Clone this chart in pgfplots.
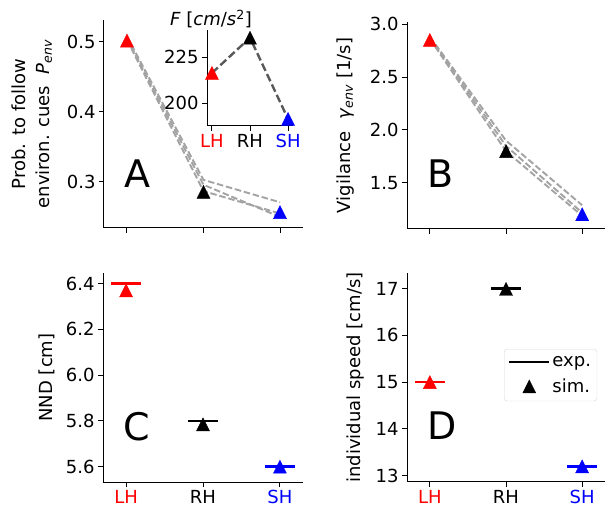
\documentclass[border=0pt]{standalone}
\usepackage{pgfplots}
\pgfplotsset{compat=1.18}
\usepackage{fontspec}
\setmainfont{DejaVu Sans}
\newcommand{\fs}{\fontsize{18}{24}\selectfont}
\newcommand{\panelfont}{\fontsize{38}{40}\selectfont}
% matplotlib-like "^" marker: point in the middle of the box
\pgfdeclareplotmark{mtri}{%
  \pgfpathmoveto{\pgfqpoint{0pt}{\pgfplotmarksize}}%
  \pgfpathlineto{\pgfqpoint{-\pgfplotmarksize}{-\pgfplotmarksize}}%
  \pgfpathlineto{\pgfqpoint{\pgfplotmarksize}{-\pgfplotmarksize}}%
  \pgfpathclose
  \pgfusepathqfillstroke}
\pgfplotsset{
  panel/.style={scale only axis, anchor=south west, axis lines=left,
    axis line style={-, line width=1pt, black},
    tick align=outside, major tick length=5pt, tick style={black, line width=1pt},
    xmin=-0.3, xmax=2.3, xtick={0,1,2},
    tick label style={font=\fs}, label style={font=\fs},
    /pgf/number format/assume math mode=true, clip=false},
  sim/.style={only marks, mark=mtri, mark size=6.5pt, color=#1,
    mark options={fill=#1, draw=#1, line width=0.4pt}},
  run/.style={black!36, line width=1.9pt, dash pattern=on 6.5pt off 2.8pt},
  expline/.style={color=#1, line width=2.4pt},
}
\begin{document}
\begin{tikzpicture}
\useasboundingbox (0pt,0pt) rectangle (605pt,514pt);

% A
\begin{axis}[panel, at={(104pt,286pt)}, width=199pt, height=208pt,
  ymin=0.2343, ymax=0.5314, ytick={0.3,0.4,0.5}, yticklabels={0.3,0.4,0.5},
  xticklabels={},
  ylabel={Prob. to follow\\environ. cues\ \ \textit{P}\textsubscript{\textit{env}}},
  ylabel style={align=center}, ylabel shift=8pt]
\addplot[run] coordinates {(0,0.508) (1,0.303) (2,0.271)};
\addplot[run] coordinates {(0,0.505) (1,0.296) (2,0.250)};
\addplot[run] coordinates {(0,0.503) (1,0.287) (2,0.255)};
\addplot[sim=red] coordinates {(0,0.502)};
\addplot[sim=black] coordinates {(1,0.286)};
\addplot[sim=blue] coordinates {(2,0.257)};
\node[font=\panelfont] at (rel axis cs:0.17,0.26) {A};
\end{axis}

% inset of A
\begin{axis}[panel, at={(207pt,388pt)}, width=86pt, height=96pt,
  xmin=-0.13, xmax=2.13, ymin=187.5, ymax=239.7,
  ytick={200,225}, yticklabels={200,225},
  xticklabels={\textcolor{red}{LH},RH,\textcolor{blue}{SH}},
  axis background/.style={fill=white}]
\addplot[black!65, line width=2.4pt, dash pattern=on 8pt off 3.5pt] coordinates {(0,216.3) (1,235.5) (2,191.3)};
\addplot[sim=red] coordinates {(0,216.3)};
\addplot[sim=black] coordinates {(1,235.5)};
\addplot[sim=blue] coordinates {(2,191.3)};
\node[font=\fs, anchor=south, inner sep=0pt, xshift=4pt, yshift=2pt] at (rel axis cs:0,1)
  {\textit{F} [\textit{cm}/\textit{s}\textsuperscript{2}]};
\end{axis}

% B
\begin{axis}[panel, at={(407pt,285pt)}, width=198pt, height=207pt,
  ymin=1.066, ymax=3.019, ytick={1.5,2.0,2.5,3.0}, yticklabels={1.5,2.0,2.5,3.0},
  xticklabels={},
  ylabel={Vigilance\ \ \textit{γ}\textsubscript{\textit{env}} [1/s]}, ylabel shift=9pt]
\addplot[run] coordinates {(0,2.88) (1,1.90) (2,1.29)};
\addplot[run] coordinates {(0,2.87) (1,1.85) (2,1.22)};
\addplot[run] coordinates {(0,2.86) (1,1.80) (2,1.19)};
\addplot[sim=red] coordinates {(0,2.85)};
\addplot[sim=black] coordinates {(1,1.80)};
\addplot[sim=blue] coordinates {(2,1.205)};
\node[font=\panelfont] at (rel axis cs:0.167,0.266) {B};
\end{axis}

% C
\begin{axis}[panel, at={(103pt,32pt)}, width=200pt, height=209pt,
  ymin=5.533, ymax=6.446, ytick={5.6,5.8,6.0,6.2,6.4}, yticklabels={5.6,5.8,6.0,6.2,6.4},
  xticklabels={\textcolor{red}{LH},RH,\textcolor{blue}{SH}},
  ylabel={NND [cm]}, ylabel shift=4pt]
\addplot[expline=red] coordinates {(-0.2,6.4) (0.2,6.4)};
\addplot[expline=black] coordinates {(0.8,5.8) (1.2,5.8)};
\addplot[expline=blue] coordinates {(1.8,5.6) (2.2,5.6)};
\addplot[sim=red] coordinates {(0,6.37)};
\addplot[sim=black] coordinates {(1,5.785)};
\addplot[sim=blue] coordinates {(2,5.60)};
\node[font=\panelfont] at (rel axis cs:0.17,0.263) {C};
\end{axis}

% D
\begin{axis}[panel, at={(407pt,32pt)}, width=198pt, height=209pt,
  ymin=12.865, ymax=17.331, ytick={13,14,15,16,17}, yticklabels={13,14,15,16,17},
  xticklabels={\textcolor{red}{LH},RH,\textcolor{blue}{SH}},
  ylabel={individual speed [cm/s]}, ylabel shift=4pt,
  legend style={at={(0.49,0.636)}, anchor=north west, draw=black!15, rounded corners=3pt,
    font=\fs, inner xsep=4pt, inner ysep=5pt, row sep=7pt, cells={anchor=west}},
  legend image code/.code={\draw[mark repeat=2,mark phase=2,#1] plot coordinates {(0pt,0pt) (20pt,0pt) (40pt,0pt)};}]
\addlegendimage{black, line width=2.2pt}
\addlegendentry{exp.}
\addlegendimage{sim=black}
\addlegendentry{sim.}
\addplot[expline=red] coordinates {(-0.2,15.0) (0.2,15.0)};
\addplot[expline=black] coordinates {(0.8,17.0) (1.2,17.0)};
\addplot[expline=blue] coordinates {(1.8,13.2) (2.2,13.2)};
\addplot[sim=red] coordinates {(0,15.0)};
\addplot[sim=black] coordinates {(1,16.99)};
\addplot[sim=blue] coordinates {(2,13.2)};
\node[font=\panelfont] at (rel axis cs:0.177,0.268) {D};
\end{axis}
\end{tikzpicture}
\end{document}
